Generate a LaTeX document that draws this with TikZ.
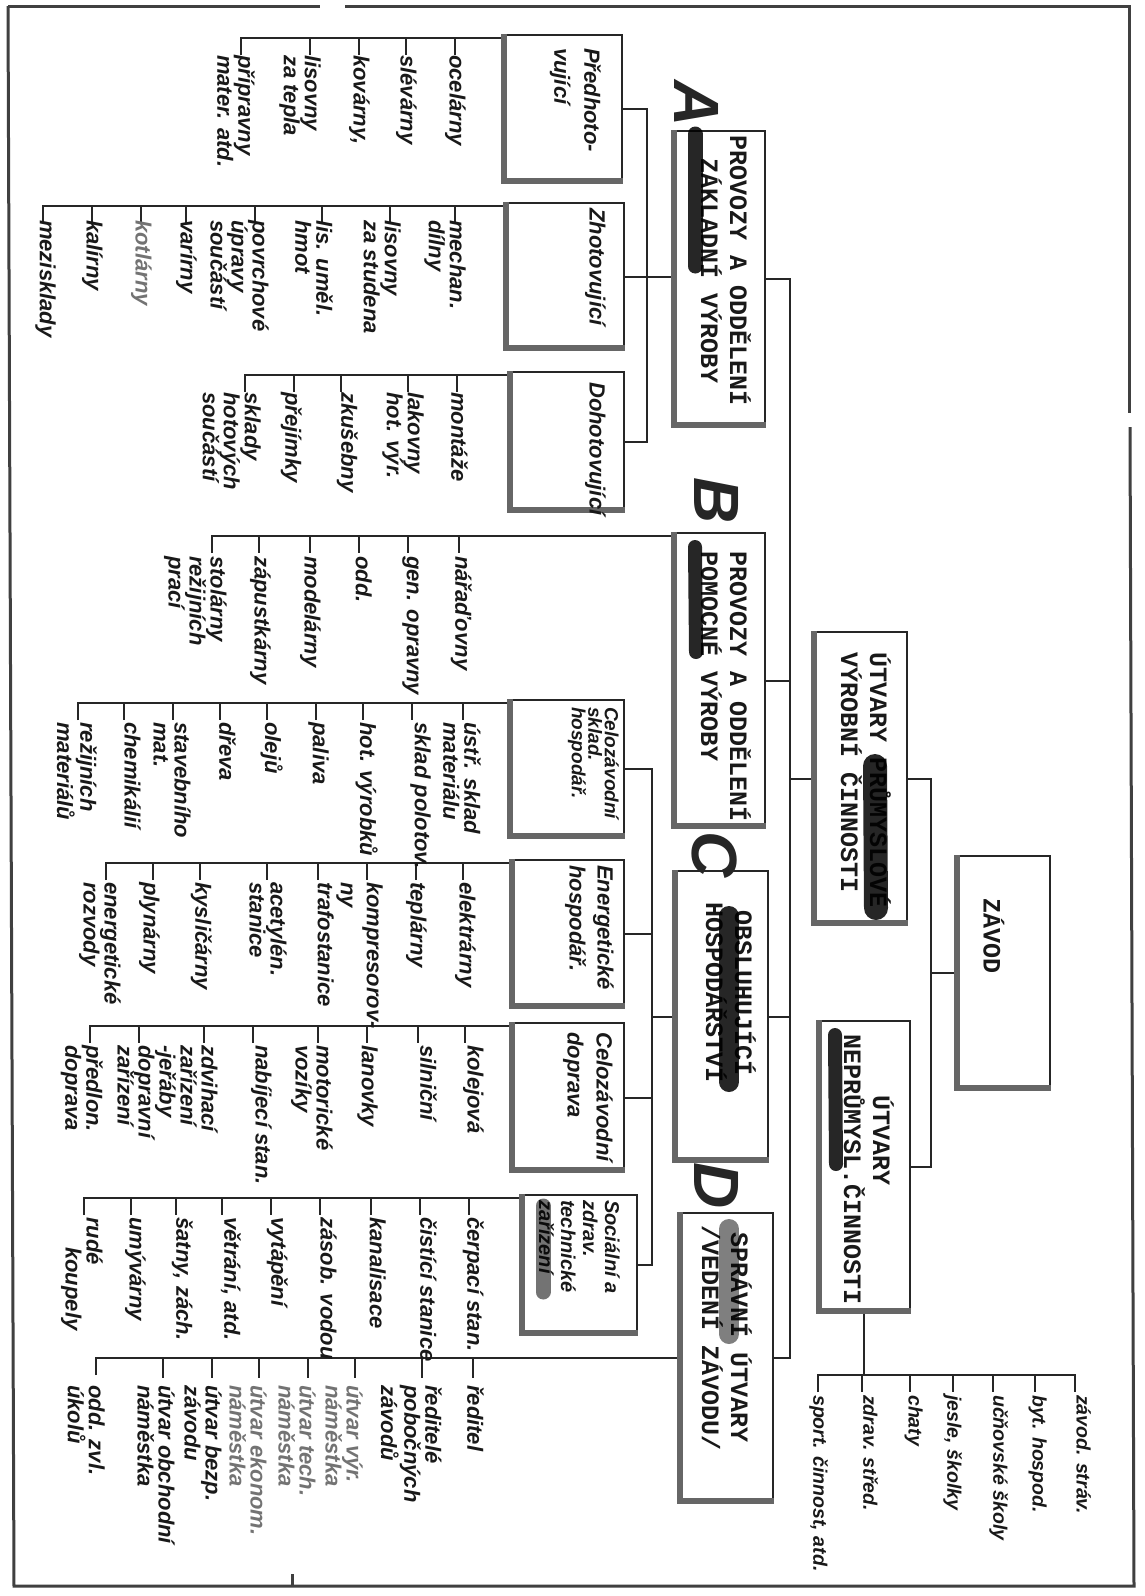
\documentclass[tikz,border=0pt]{standalone}
\usepackage{fontspec}
\setmainfont{Liberation Sans}
\newfontfamily\hand{Liberation Sans}
\newfontfamily\twf{Liberation Mono}
\newfontfamily\letterfont{Liberation Sans}
\newcommand\boxshade[1]{\draw[shad] ([xshift=3pt]#1.north west) |- ([yshift=3pt]#1.south east);}
\begin{document}
\begin{tikzpicture}[x=1pt,y=-1pt,
  frame/.style={draw=black!75, line width=3pt},
  box/.style={draw=black!85, line width=1.6pt, inner sep=0pt},
  shad/.style={draw=black!60, line width=6pt},
  wire/.style={draw=black!85, line width=2pt},
  tick/.style={draw=black!85, line width=2.6pt},
  item/.style={rotate=-90, anchor=north west, inner sep=0pt, align=left, text=black!90,
    font=\hand\bfseries\itshape\fontsize{22}{21}\selectfont},
  small/.style={item, font=\hand\bfseries\itshape\fontsize{19.5}{20}\selectfont},
  title/.style={item},
  tw/.style={rotate=-90, inner sep=0pt, text=black!90, font=\twf\bfseries\fontsize{25}{29}\selectfont},
  bigletter/.style={rotate=-90, inner sep=0pt, text=black!85, font=\letterfont\bfseries\itshape\fontsize{64}{64}\selectfont},
  blot/.style={draw=black, line cap=round, opacity=0.85},
]
\useasboundingbox (0,0) rectangle (1144,1596);
\fill[white] (0,0) rectangle (1144,1596);

% outer frame
\draw[frame] (8,6) -- (320,6);
\draw[frame] (345,6) -- (1129,6) -- (1129,413);
\draw[frame] (1130,427) -- (1134,1586) -- (14,1586) -- (8,6);
\draw[frame] (292,1586) -- (292,1574);

% ---------- boxes ----------
\node[box, minimum width=95pt, minimum height=234pt] (ZAV) at (1002.5,973) {};
\node[box, minimum width=95pt, minimum height=293pt] (UV) at (859.5,778.5) {};
\node[box, minimum width=93pt, minimum height=292pt] (UN) at (863.5,1167) {};
\node[box, minimum width=93pt, minimum height=296pt] (A) at (718.5,279) {};
\node[box, minimum width=93pt, minimum height=295pt] (B) at (718.5,680.5) {};
\node[box, minimum width=95pt, minimum height=291pt] (C) at (720.5,1016.5) {};
\node[box, minimum width=95pt, minimum height=290pt] (D) at (725.5,1358) {};
\node[box, minimum width=120pt, minimum height=148pt] (P1) at (562,109) {};
\node[box, minimum width=120pt, minimum height=147pt] (P2) at (564,276.5) {};
\node[box, minimum width=116pt, minimum height=140pt] (P3) at (566,442) {};
\node[box, minimum width=116pt, minimum height=138pt] (S1) at (566,769) {};
\node[box, minimum width=114pt, minimum height=148pt] (S2) at (567,934) {};
\node[box, minimum width=114pt, minimum height=149pt] (S3) at (567,1097.5) {};
\node[box, minimum width=117pt, minimum height=140pt] (S4) at (578.5,1265) {};
\foreach \b in {ZAV,UV,UN,A,B,C,D,P1,P2,P3,S1,S2,S3,S4} {\boxshade{\b}}

% ---------- main connectors ----------
\coordinate (j1) at (931,0);
\coordinate (j2) at (790,0);
\coordinate (j3) at (647,0);
\coordinate (j4) at (652,0);
\draw[wire] (ZAV.west) -- (ZAV.west -| j1);
\draw[wire] (UV.east) -- (UV.east -| j1) -- (UN.east -| j1) -- (UN.east);
\draw[wire] (UV.west) -- (UV.west -| j2);
\draw[wire] (A.east) -- (A.east -| j2) -- (D.east -| j2) -- (D.east);
\draw[wire] (B.east) -- (B.east -| j2);
\draw[wire] (C.east) -- (C.east -| j2);
\draw[wire] (P1.east) -- (P1.east -| j3) -- (P3.east -| j3) -- (P3.east);
\draw[wire] (P2.east) -- (P2.east -| A.west);
\draw[wire] (S1.east) -- (S1.east -| j4) -- (S4.east -| j4) -- (S4.east);
\draw[wire] (S2.east) -- (S2.east -| j4);
\draw[wire] (S3.east) -- (S3.east -| j4);
\draw[wire] (C.west) -- (C.west -| j4);

% ---------- item buses ----------
\coordinate (bP1) at (241,38);
\coordinate (bP2) at (43,206);
\coordinate (bP3) at (245,375);
\coordinate (bB) at (212,536);
\coordinate (bS1) at (78,703);
\coordinate (bS2) at (106,863);
\coordinate (bS3) at (90,1026);
\coordinate (bS4) at (84,1198);
\coordinate (bD) at (96,1358);
\coordinate (bU) at (818,1375);
\coordinate (bU2) at (1075,1375);
\draw[wire] ([yshift=-17pt]bP1) -- (bP1) -- (bP1 -| P1.west);
\draw[wire] ([yshift=-17pt]bP2) -- (bP2) -- (bP2 -| P2.west);
\draw[wire] ([yshift=-17pt]bP3) -- (bP3) -- (bP3 -| P3.west);
\draw[wire] ([yshift=-17pt]bB) -- (bB) -- (bB -| B.west);
\draw[wire] ([yshift=-17pt]bS1) -- (bS1) -- (bS1 -| S1.west);
\draw[wire] ([yshift=-17pt]bS2) -- (bS2) -- (bS2 -| S2.west);
\draw[wire] ([yshift=-17pt]bS3) -- (bS3) -- (bS3 -| S3.west);
\draw[wire] ([yshift=-17pt]bS4) -- (bS4) -- (bS4 -| S4.west);
\draw[wire] ([yshift=-17pt]bD) -- (bD) -- (D.west);
\draw[wire] (UN.south) -- (UN.south |- bU);
\draw[wire] ([yshift=-17pt]bU) -- (bU) -- (bU2) -- ([yshift=-17pt]bU2);
\foreach \t in {455,406,359,310} \draw[tick] (\t,38) -- (\t,55);
\foreach \t in {455,390,322,255,186,141,92} \draw[tick] (\t,206) -- (\t,223);
\foreach \t in {457,408,341,294} \draw[tick] (\t,375) -- (\t,392);
\foreach \t in {459,408,359,310,259} \draw[tick] (\t,536) -- (\t,553);
\foreach \t in {463,412,363,316,267,220,173,124} \draw[tick] (\t,703) -- (\t,720);
\foreach \t in {463,416,367,318,267,200,153} \draw[tick] (\t,863) -- (\t,880);
\foreach \t in {465,418,367,318,253,204,139} \draw[tick] (\t,1026) -- (\t,1043);
\foreach \t in {469,420,371,320,271,222,176,131} \draw[tick] (\t,1198) -- (\t,1215);
\foreach \t in {473,422,355,308,259,212,163} \draw[tick] (\t,1358) -- (\t,1378);
\foreach \t in {1035,993,953,910,862} \draw[tick] (\t,1375) -- (\t,1392);

% ---------- box texts ----------
\node[tw] (tZ) at (994,936) {ZÁVOD};
\node[tw, align=left] (tUV) at (866,780) {ÚTVARY PRŮMYSLOVÉ\\VÝROBNÍ ČINNOSTI};
\node[tw, align=left] (tUN) at (869,1170) {\phantom{NEPR}ÚTVARY\\NEPRŮMYSL.ČINNOSTI};
\node[tw, align=center] (tA) at (726,271) {PROVOZY A ODDĚLENÍ\\ZÁKLADNÍ VÝROBY};
\node[tw, align=left] (tB) at (726,687) {PROVOZY A ODDĚLENÍ\\POMOCNÉ VÝROBY};
\node[tw, align=center] (tC) at (731,993) {OBSLUHUJÍCÍ\\HOSPODÁŘSTVÍ};
\node[tw, align=center] (tD) at (727,1338) {SPRÁVNÍ ÚTVARY\\/VEDENÍ ZÁVODU/};

\node[bigletter] (LA) at (697,104) {A};
\node[bigletter] (LB) at (717,501) {B};
\node[bigletter] (LC) at (715,855) {C};
\node[bigletter] (LD) at (717,1186) {D};

\node[title, font=\hand\bfseries\itshape\fontsize{22}{30}\selectfont] (tP1) at (601,48) {Předhoto-\\vující};
\node[title] (tP2) at (606,208) {Zhotovující};
\node[title] (tP3) at (606,382) {Dohotovující};
\node[title, font=\hand\bfseries\itshape\fontsize{19}{16.5}\selectfont] (tS1) at (619,707) {Celozávodní\\sklad.\\hospodář.};
\node[title, font=\hand\bfseries\itshape\fontsize{22}{28}\selectfont] (tS2) at (614,865) {Energetické\\hospodář.};
\node[title, font=\hand\bfseries\itshape\fontsize{22}{29}\selectfont] (tS3) at (613,1032) {Celozávodní\\doprava};
\node[title, font=\hand\bfseries\itshape\fontsize{20}{22}\selectfont] (tS4) at (620,1200) {Sociální a\\zdrav.\\technické\\zařízení};

% ---------- items ----------
\node[item] (p1a) at (466,55) {ocelárny};
\node[item] (p1b) at (417,55) {slévárny};
\node[item] (p1c) at (370,55) {kovárny,};
\node[item] (p1d) at (321,55) {lisovny\\za tepla};
\node[item] (p1e) at (255,55) {přípravny\\mater. atd.};

\node[item] (p2a) at (466,220) {mechan.\\dílny};
\node[item] (p2b) at (401,220) {lisovny\\za studena};
\node[item] (p2c) at (333,220) {lis. uměl.\\hmot};
\node[item] (p2d) at (269,220) {povrchové\\úpravy\\součástí};
\node[item] (p2e) at (197,220) {varírny};
\node[item, text=black!55] (p2f) at (152,220) {kotlárny};
\node[item] (p2g) at (103,220) {kalírny};
\node[item] (p2h) at (56,220) {mezisklady};

\node[item] (p3a) at (468,392) {montáže};
\node[item] (p3b) at (424,392) {lakovny\\hot. výr.};
\node[item] (p3c) at (358,392) {zkušebny};
\node[item] (p3d) at (302,392) {přejímky};
\node[item] (p3e) at (261,392) {sklady\\hotových\\součástí};

\node[item] (b1) at (472,556) {nářaďovny};
\node[item] (b2) at (419,556) {gen. opravny};
\node[item] (b3) at (372,556) {odd.};
\node[item] (b4) at (321,556) {modelárny};
\node[item] (b5) at (271,556) {zápustkárny};
\node[item] (b6) at (227,556) {stolárny\\režijních\\prací};

\node[item] (s1a) at (481,722) {ústř. sklad\\materiálu};
\node[item] (s1b) at (431,722) {sklad polotov.};
\node[item] (s1c) at (378,722) {hot. výrobků};
\node[item] (s1d) at (329,722) {paliva};
\node[item] (s1e) at (283,722) {olejů};
\node[item] (s1f) at (236,722) {dřeva};
\node[item] (s1g) at (191,722) {stavebního\\mat.};
\node[item] (s1h) at (141,722) {chemikálií};
\node[item] (s1i) at (97,722) {režijních\\materiálů};

\node[item] (s2a) at (476,882) {elektrárny};
\node[item] (s2b) at (427,882) {teplárny};
\node[item, font=\hand\bfseries\itshape\fontsize{22}{26}\selectfont] (s2c) at (383,882) {kompresorov-\\ny};
\node[item] (s2d) at (334,882) {trafostanice};
\node[item] (s2e) at (287,882) {acetylén.\\stanice};
\node[item] (s2f) at (212,882) {kysličárny};
\node[item] (s2g) at (160,882) {plynárny};
\node[item] (s2h) at (121,882) {energetické\\rozvody};

\node[item] (s3a) at (484,1045) {kolejová};
\node[item] (s3b) at (437,1045) {silniční};
\node[item] (s3c) at (378,1045) {lanovky};
\node[item] (s3d) at (333,1045) {motorické\\vozíky};
\node[item] (s3e) at (272,1045) {nabíjecí stan.};
\node[item] (s3f) at (218,1045) {zdvihací\\zařízení\\-jeřáby};
\node[item] (s3g) at (155,1045) {dopravní\\zařízení};
\node[item] (s3h) at (103,1045) {předlon.\\doprava};

\node[item] (s4a) at (484,1217) {čerpací stan.};
\node[item] (s4b) at (437,1217) {čistící stanice};
\node[item] (s4c) at (386,1217) {kanalisace};
\node[item] (s4d) at (337,1217) {zásob. vodou};
\node[item] (s4e) at (288,1217) {vytápění};
\node[item] (s4f) at (241,1217) {větrání, atd.};
\node[item] (s4g) at (193,1217) {šatny, zách.};
\node[item] (s4h) at (146,1217) {umývárny};
\node[item] (s4i) at (103,1217) {rudé\\\hspace*{30pt}koupely};

\node[item] (d1) at (484,1385) {ředitel};
\node[item] (d2) at (442,1385) {ředitelé\\pobočných\\závodů};
\node[item, text=black!55] (d3) at (363,1385) {útvar výr.\\náměstka};
\node[item, text=black!55] (d4) at (316,1385) {útvar tech.\\náměstka};
\node[item, text=black!55] (d5) at (267,1385) {útvar ekonom.\\náměstka};
\node[item] (d6) at (222,1385) {útvar bezp.\\závodu};
\node[item] (d7) at (175,1385) {útvar obchodní\\náměstka};
\node[item] (d8) at (105,1385) {odd. zvl.\\úkolů};

\node[small] (n1) at (1091,1395) {závod. stráv.};
\node[small] (n2) at (1047,1395) {byt. hospod.};
\node[small] (n3) at (1008,1395) {učňovské školy};
\node[small] (n4) at (962,1395) {jesle, školky};
\node[small] (n5) at (923,1395) {chaty};
\node[small] (n6) at (878,1395) {zdrav. střed.};
\node[small] (n7) at (828,1395) {sport. činnost, atd.};

% ---------- blots ----------
\draw[blot, line width=15pt] (695,134) -- (695,266);
\draw[blot, line width=14pt] (695,547) -- (696,652);
\draw[blot, line width=24pt] (875,766) -- (876,908);
\draw[blot, line width=20pt] (729,916) -- (729,1082);
\draw[blot, line width=20pt, opacity=0.5] (729,1229) -- (729,1334);
\draw[blot, line width=14pt] (835,1035) -- (836,1164);
\draw[blot, line width=15pt, opacity=0.55] (543,1206) -- (543,1292);
\end{tikzpicture}
\end{document}
